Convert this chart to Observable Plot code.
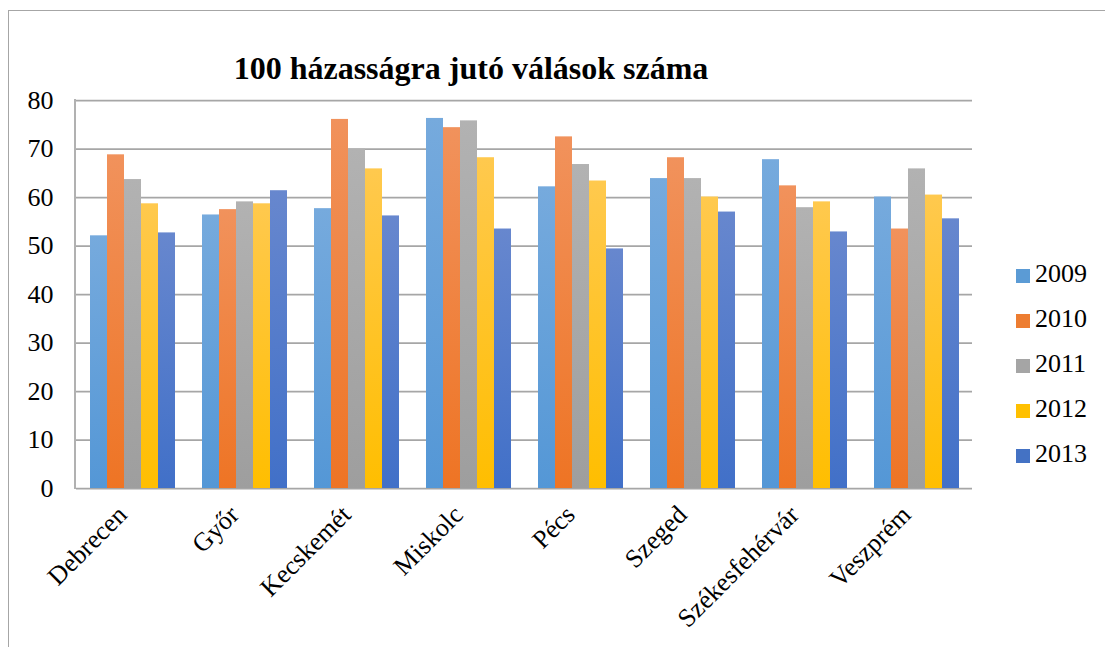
<!DOCTYPE html>
<html><head><meta charset="utf-8">
<script src="https://cdn.jsdelivr.net/npm/d3@7"></script>
<script src="https://cdn.jsdelivr.net/npm/@observablehq/plot@0.6"></script>
<style>
body{margin:0;background:#fff;font-family:"Liberation Serif","Times New Roman",serif;}
#wrap{position:relative;width:1105px;height:647px;overflow:hidden;background:#fff;}
#border{position:absolute;left:8px;top:10px;width:1110px;height:650px;border:1.5px solid #a6a6a6;box-sizing:border-box;}
#chart{position:absolute;left:0;top:0;}
#title{position:absolute;left:0;width:942px;top:50px;text-align:center;font-weight:bold;font-size:32px;color:#000;white-space:nowrap;}
.leg{position:absolute;left:1016px;font-size:26px;color:#000;height:30px;white-space:nowrap;}
.leg .sw{position:absolute;left:0;top:10px;width:14px;height:14px;}
.leg .lt{position:absolute;left:19px;top:0;}
</style>
</head><body>
<div id="wrap">
<div id="border"></div>
<div id="chart"></div>
<div id="title">100 házasságra jutó válások száma</div>
<div id="legend"></div>
</div>
<script>
const cities = ["Debrecen","Győr","Kecskemét","Miskolc","Pécs","Szeged","Székesfehérvár","Veszprém"];
const years = ["2009","2010","2011","2012","2013"];
const v2009 = [52.1, 56.4, 57.7, 76.3, 62.2, 63.9, 67.8, 60.1];
const v2010 = [68.8, 57.5, 76.1, 74.4, 72.5, 68.2, 62.4, 53.5];
const v2011 = [63.7, 59.1, 70.0, 75.8, 66.8, 63.9, 57.9, 65.9];
const v2012 = [58.7, 58.7, 65.9, 68.2, 63.4, 60.1, 59.1, 60.5];
const v2013 = [52.7, 61.4, 56.2, 53.5, 49.4, 57.0, 52.9, 55.6];
const yTicks = [0,10,20,30,40,50,60,70,80];
const legendColors = ["#5B9BD5","#ED7D31","#A5A5A5","#FFC000","#4472C4"];
const gradTop = ["#76AADD","#F1925C","#B2B2B2","#FFC94E","#6787CE"];
const gradBottom = ["#5497D6","#EE7424","#9E9E9E","#FFBE00","#4170C8"];

const series = [v2009, v2010, v2011, v2012, v2013];
const data = [];
cities.forEach((c, i) => years.forEach((y, j) => data.push({city: c, year: y, value: series[j][i]})));

const serif = "'Liberation Serif','Times New Roman',serif";
const plot = Plot.plot({
  width: 1105,
  height: 647,
  marginLeft: 75,
  marginRight: 132,
  marginTop: 100,
  marginBottom: 159,
  style: {fontFamily: serif, fontSize: "26px", color: "#000", background: "transparent", overflow: "visible"},
  fx: {domain: cities, padding: 0, label: null},
  x: {domain: years, paddingInner: 0, paddingOuter: 0.72, axis: null},
  y: {domain: [0, 80], label: null},
  color: {domain: years, range: years.map((y, j) => `url(#grad${j})`)},
  marks: [
    Plot.gridY(yTicks, {stroke: "#a6a6a6", strokeOpacity: 1, strokeWidth: 1.75}),
    Plot.barY(data, {fx: "city", x: "year", y: "value", fill: "year"}),
    Plot.axisY(yTicks, {tickSize: 0, tickPadding: 23, fontSize: 26, fontFamily: serif, label: null}),
    Plot.axisFx({anchor: "bottom", tickRotate: -45, tickSize: 0, tickPadding: 22, dx: -10, fontSize: 26, fontFamily: serif, label: null})
  ]
});

// gradients
const svgNS = "http://www.w3.org/2000/svg";
const defs = document.createElementNS(svgNS, "defs");
years.forEach((y, j) => {
  const g = document.createElementNS(svgNS, "linearGradient");
  g.setAttribute("id", `grad${j}`);
  g.setAttribute("x1", "0"); g.setAttribute("y1", "0");
  g.setAttribute("x2", "0"); g.setAttribute("y2", "1");
  const s1 = document.createElementNS(svgNS, "stop");
  s1.setAttribute("offset", "0"); s1.setAttribute("stop-color", gradTop[j]);
  const s2 = document.createElementNS(svgNS, "stop");
  s2.setAttribute("offset", "1"); s2.setAttribute("stop-color", gradBottom[j]);
  g.appendChild(s1); g.appendChild(s2);
  defs.appendChild(g);
});
plot.insertBefore(defs, plot.firstChild);

// left axis line
const ys = plot.scale("y");
const line = document.createElementNS(svgNS, "line");
line.setAttribute("x1", 75); line.setAttribute("x2", 75);
line.setAttribute("y1", ys.apply(80) - 0.9); line.setAttribute("y2", ys.apply(0) + 0.9);
line.setAttribute("stroke", "#a6a6a6"); line.setAttribute("stroke-width", 1.75);
plot.appendChild(line);

document.getElementById("chart").appendChild(plot);

// legend
const leg = document.getElementById("legend");
years.forEach((y, j) => {
  const d = document.createElement("div");
  d.className = "leg";
  d.style.top = (259 + j * 45) + "px";
  d.innerHTML = `<div class="sw" style="background:${legendColors[j]}"></div><div class="lt">${y}</div>`;
  leg.appendChild(d);
});
</script>
</body></html>
